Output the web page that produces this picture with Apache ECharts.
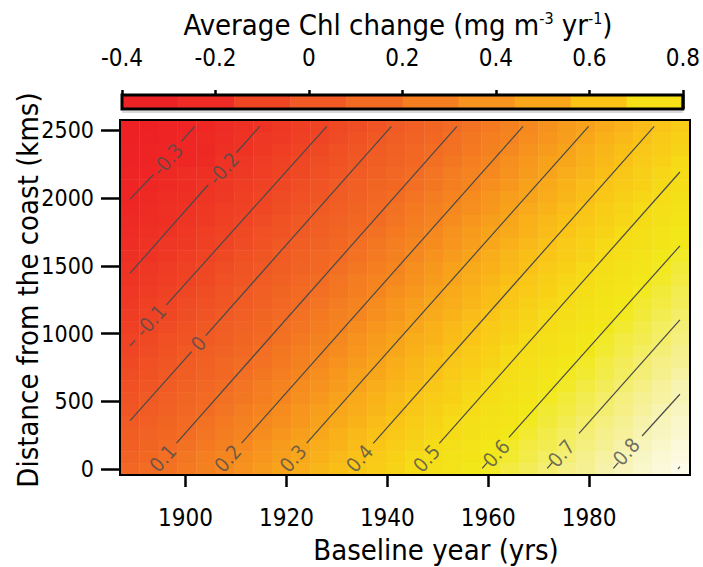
<!DOCTYPE html>
<html><head><meta charset="utf-8">
<script src="https://cdn.jsdelivr.net/npm/echarts@6/dist/echarts.min.js"></script>
<style>html,body{margin:0;padding:0;background:#fff}#c{width:703px;height:567px}</style>
</head><body><div id="c"></div>
<script>
// ---------- data ----------
const years = [1888.9,1892.7,1896.4,1900.2,1904.0,1907.7,1911.5,1915.3,1919.0,1922.8,1926.6,1930.3,1934.1,1937.9,1941.6,1945.4,1949.2,1952.9,1956.7,1960.5,1964.2,1968.0,1971.8,1975.5,1979.3,1983.1,1986.8,1990.6,1994.4,1998.1];
// rows listed from top (far from coast) to bottom (coast)
const dists = [2533,2446,2358,2271,2184,2096,2009,1922,1834,1747,1660,1572,1485,1397,1310,1223,1135,1048,961,873,786,699,611,524,437,349,262,175,87,0];
const chl = [
[-0.40,-0.38,-0.35,-0.32,-0.29,-0.26,-0.23,-0.20,-0.17,-0.14,-0.11,-0.08,-0.06,-0.03,0.00,0.03,0.06,0.09,0.12,0.15,0.18,0.21,0.24,0.27,0.29,0.32,0.35,0.38,0.41,0.44],
[-0.39,-0.36,-0.33,-0.30,-0.27,-0.24,-0.21,-0.18,-0.16,-0.13,-0.10,-0.07,-0.04,-0.01,0.02,0.05,0.08,0.11,0.14,0.17,0.19,0.22,0.25,0.28,0.31,0.34,0.37,0.40,0.43,0.46],
[-0.37,-0.34,-0.31,-0.30,-0.28,-0.23,-0.20,-0.17,-0.14,-0.11,-0.08,-0.05,-0.02,0.01,0.04,0.07,0.10,0.12,0.15,0.18,0.21,0.24,0.27,0.30,0.33,0.36,0.39,0.42,0.44,0.47],
[-0.36,-0.33,-0.30,-0.29,-0.27,-0.21,-0.18,-0.15,-0.12,-0.09,-0.06,-0.04,-0.01,0.02,0.05,0.08,0.11,0.14,0.17,0.20,0.23,0.26,0.29,0.31,0.34,0.37,0.40,0.43,0.46,0.49],
[-0.34,-0.31,-0.28,-0.25,-0.22,-0.19,-0.16,-0.14,-0.11,-0.08,-0.05,-0.02,0.01,0.04,0.07,0.10,0.13,0.16,0.19,0.21,0.24,0.27,0.30,0.33,0.36,0.39,0.42,0.45,0.48,0.51],
[-0.32,-0.29,-0.27,-0.24,-0.21,-0.18,-0.15,-0.12,-0.09,-0.06,-0.03,0.00,0.03,0.06,0.08,0.11,0.14,0.17,0.20,0.23,0.26,0.29,0.32,0.35,0.38,0.41,0.43,0.46,0.49,0.52],
[-0.31,-0.28,-0.25,-0.22,-0.19,-0.16,-0.13,-0.10,-0.07,-0.05,-0.02,0.01,0.04,0.07,0.10,0.13,0.16,0.19,0.22,0.25,0.28,0.30,0.33,0.36,0.39,0.42,0.45,0.48,0.51,0.54],
[-0.29,-0.26,-0.23,-0.20,-0.17,-0.14,-0.12,-0.09,-0.06,-0.03,0.00,0.03,0.06,0.09,0.12,0.15,0.18,0.21,0.23,0.26,0.29,0.32,0.35,0.38,0.41,0.44,0.47,0.50,0.53,0.55],
[-0.27,-0.25,-0.22,-0.19,-0.16,-0.13,-0.10,-0.07,-0.04,-0.01,0.02,0.05,0.08,0.10,0.13,0.16,0.19,0.22,0.25,0.28,0.31,0.34,0.37,0.40,0.42,0.45,0.48,0.51,0.54,0.57],
[-0.26,-0.23,-0.20,-0.17,-0.14,-0.11,-0.08,-0.05,-0.03,0.00,0.03,0.06,0.09,0.12,0.15,0.18,0.21,0.24,0.27,0.30,0.32,0.35,0.38,0.41,0.44,0.47,0.50,0.53,0.56,0.59],
[-0.24,-0.21,-0.18,-0.16,-0.13,-0.10,-0.07,-0.04,-0.01,0.02,0.05,0.08,0.11,0.14,0.17,0.20,0.22,0.25,0.28,0.31,0.34,0.37,0.40,0.43,0.46,0.49,0.52,0.54,0.57,0.60],
[-0.23,-0.20,-0.17,-0.14,-0.11,-0.08,-0.05,-0.02,0.01,0.04,0.07,0.09,0.12,0.15,0.18,0.21,0.24,0.27,0.30,0.33,0.36,0.39,0.41,0.44,0.47,0.50,0.53,0.56,0.59,0.62],
[-0.21,-0.18,-0.15,-0.12,-0.09,-0.06,-0.03,-0.01,0.02,0.05,0.08,0.11,0.14,0.17,0.20,0.23,0.26,0.29,0.32,0.34,0.37,0.40,0.43,0.46,0.49,0.52,0.55,0.58,0.61,0.64],
[-0.19,-0.16,-0.14,-0.11,-0.08,-0.05,-0.02,0.01,0.04,0.07,0.10,0.13,0.16,0.19,0.21,0.24,0.27,0.30,0.33,0.36,0.39,0.42,0.45,0.48,0.51,0.54,0.56,0.59,0.62,0.65],
[-0.18,-0.15,-0.12,-0.09,-0.06,-0.03,0.00,0.03,0.06,0.09,0.11,0.14,0.17,0.20,0.23,0.26,0.29,0.32,0.35,0.38,0.41,0.43,0.46,0.49,0.52,0.55,0.58,0.61,0.64,0.67],
[-0.16,-0.13,-0.10,-0.07,-0.05,-0.02,0.01,0.04,0.07,0.10,0.13,0.16,0.19,0.22,0.25,0.28,0.31,0.33,0.36,0.39,0.42,0.45,0.48,0.51,0.54,0.57,0.60,0.63,0.65,0.68],
[-0.15,-0.12,-0.09,-0.06,-0.03,0.00,0.03,0.06,0.09,0.12,0.15,0.18,0.20,0.23,0.26,0.29,0.32,0.35,0.38,0.41,0.44,0.47,0.50,0.52,0.55,0.58,0.61,0.64,0.67,0.70],
[-0.13,-0.10,-0.07,-0.04,-0.01,0.02,0.05,0.08,0.11,0.13,0.16,0.19,0.22,0.25,0.28,0.31,0.34,0.37,0.40,0.43,0.45,0.48,0.51,0.54,0.57,0.60,0.63,0.66,0.69,0.72],
[-0.11,-0.08,-0.05,-0.03,0.00,0.03,0.06,0.09,0.12,0.15,0.18,0.21,0.24,0.27,0.30,0.33,0.35,0.38,0.41,0.44,0.47,0.50,0.53,0.56,0.59,0.62,0.65,0.67,0.70,0.73],
[-0.10,-0.07,-0.04,-0.01,0.02,0.05,0.08,0.11,0.14,0.17,0.20,0.22,0.25,0.28,0.31,0.34,0.37,0.40,0.43,0.46,0.49,0.52,0.54,0.57,0.60,0.63,0.66,0.69,0.72,0.75],
[-0.08,-0.05,-0.02,0.01,0.04,0.07,0.10,0.12,0.15,0.18,0.21,0.24,0.27,0.30,0.33,0.36,0.39,0.42,0.44,0.47,0.50,0.53,0.56,0.59,0.62,0.65,0.68,0.71,0.74,0.76],
[-0.06,-0.04,-0.01,0.02,0.05,0.08,0.11,0.14,0.17,0.20,0.23,0.26,0.29,0.31,0.34,0.37,0.40,0.43,0.46,0.49,0.52,0.55,0.58,0.61,0.63,0.66,0.69,0.72,0.75,0.78],
[-0.05,-0.02,0.01,0.04,0.07,0.10,0.13,0.16,0.19,0.22,0.24,0.27,0.30,0.33,0.36,0.39,0.42,0.45,0.48,0.51,0.54,0.56,0.59,0.62,0.65,0.68,0.71,0.74,0.77,0.80],
[-0.03,0.00,0.03,0.06,0.09,0.12,0.14,0.17,0.20,0.23,0.26,0.29,0.32,0.35,0.38,0.41,0.44,0.46,0.49,0.52,0.55,0.58,0.61,0.64,0.67,0.70,0.73,0.76,0.78,0.81],
[-0.02,0.01,0.04,0.07,0.10,0.13,0.16,0.19,0.22,0.25,0.28,0.31,0.33,0.36,0.39,0.42,0.45,0.48,0.51,0.54,0.57,0.60,0.63,0.65,0.68,0.71,0.74,0.77,0.80,0.83],
[0.00,0.03,0.06,0.09,0.12,0.15,0.18,0.21,0.23,0.26,0.29,0.32,0.35,0.38,0.41,0.44,0.47,0.50,0.53,0.55,0.58,0.61,0.64,0.67,0.70,0.73,0.76,0.79,0.82,0.85],
[0.02,0.05,0.08,0.10,0.13,0.16,0.19,0.22,0.25,0.28,0.31,0.34,0.37,0.40,0.42,0.45,0.48,0.51,0.54,0.57,0.60,0.63,0.66,0.69,0.72,0.75,0.77,0.80,0.83,0.86],
[0.03,0.06,0.09,0.12,0.15,0.18,0.21,0.24,0.27,0.30,0.33,0.35,0.38,0.41,0.44,0.47,0.50,0.53,0.56,0.59,0.62,0.65,0.67,0.70,0.73,0.76,0.79,0.82,0.85,0.88],
[0.05,0.08,0.11,0.14,0.17,0.20,0.23,0.25,0.28,0.31,0.34,0.37,0.40,0.43,0.46,0.49,0.52,0.55,0.57,0.60,0.63,0.66,0.69,0.72,0.75,0.78,0.81,0.84,0.87,0.89],
[0.07,0.10,0.12,0.15,0.18,0.21,0.24,0.27,0.30,0.33,0.36,0.39,0.42,0.44,0.47,0.50,0.53,0.56,0.59,0.62,0.65,0.68,0.71,0.74,0.76,0.79,0.82,0.85,0.88,0.92]
];
const xTicks = [1900,1920,1940,1960,1980];
const yTicks = [0,500,1000,1500,2000,2500];
// contour segments: [level, [[year,km],[year,km]]]
const contourSegs = [
  [-0.3, [[1889.0,1993],[1893.6,2173]]], [-0.3, [[1899.2,2419],[1901.8,2530]]],
  [-0.2, [[1889.0,1446],[1904.5,2099]]], [-0.2, [[1910.1,2337],[1914.7,2530]]],
  [-0.1, [[1889.0,909],[1890.0,950]]],   [-0.1, [[1896.2,1212],[1928.0,2530]]],
  [0.0,  [[1889.0,357],[1901.2,867]]],   [0.0,  [[1904.0,985],[1940.8,2530]]],
  [0.1,  [[1898.2,192],[1953.8,2530]]],
  [0.2,  [[1911.1,192],[1966.9,2530]]],
  [0.3,  [[1924.0,192],[1979.9,2530]]],
  [0.4,  [[1937.2,190],[1992.9,2530]]],
  [0.5,  [[1950.3,190],[1998.0,2193]]],
  [0.6,  [[1958.8,5],[1959.8,47]]],      [0.6,  [[1964.1,234],[1998.0,1648]]],
  [0.7,  [[1971.7,5],[1972.7,47]]],      [0.7,  [[1978.0,264],[1998.0,1101]]],
  [0.8,  [[1984.8,5],[1985.8,47]]],      [0.8,  [[1990.5,244],[1998.0,552]]],
  [0.9,  [[1997.6,0],[1998.0,18]]]
];
// contour label positions [year, km, text]
const contourLabels = [
  [1896.4,2285,'-0.3'],[1907.5,2219,'-0.2'],[1893.1,1095,'-0.1'],[1902.6,926,'0'],
  [1895.5,81,'0.1'],[1908.4,79,'0.2'],[1921.3,79,'0.3'],[1934.5,79,'0.4'],[1947.8,79,'0.5'],
  [1961.6,116,'0.6'],[1974.5,116,'0.7'],[1987.4,128,'0.8']
];
// colour bar
const cbEdges = [-0.4,-0.28,-0.16,-0.04,0.08,0.2,0.32,0.44,0.56,0.68,0.8];
const cbColors = ['#ed2224','#ee2b24','#ef4523','#f15a24','#f36b22','#f57f20','#f7931e','#f9a61b','#fbc316','#f6e016'];
const heatStops = ['#ed2024','#ee2624','#ee3324','#ef4524','#f05a24','#f26c23','#f5861f','#f8a41b','#fac217','#f6db17','#f2e819','#f3ed68','#f7f3b0','#fcfae4','#ffffff'];

// ---------- build ----------
const FONT = '"DejaVu Sans Condensed","Liberation Sans Narrow",sans-serif';
const heatData = [];
chl.forEach((row, r) => row.forEach((v, c) => heatData.push([years[c], dists[r], v])));
const hw = (years[years.length-1] - years[0]) / (years.length - 1) / 2;
const hh = (dists[0] - dists[dists.length-1]) / (dists.length - 1) / 2;
const cbData = cbEdges.slice(0, -1).map((e, i) => [e, cbEdges[i+1]]);

const chart = echarts.init(document.getElementById('c'), null, {renderer: 'svg'});
const tickStyle = {color: '#000', width: 2.5};
chart.setOption({
  animation: false,
  backgroundColor: '#fff',
  grid: [
    {left: 120, top: 120, width: 570, height: 355},
    {left: 122, top: 95, width: 568, height: 14}
  ],
  xAxis: [
    {gridIndex: 0, type: 'value', min: 1887, max: 2000, position: 'bottom',
     axisLine: {show: false}, splitLine: {show: false},
     axisTick: {show: true, customValues: xTicks, length: 18, lineStyle: tickStyle},
     axisLabel: {customValues: xTicks, margin: 31, fontSize: 24, color: '#000', fontFamily: FONT, formatter: v => String(v)}},
    {gridIndex: 1, type: 'value', min: -0.4, max: 0.8, interval: 0.2, position: 'top',
     axisLine: {show: false}, splitLine: {show: false},
     axisTick: {show: true, length: 19, lineStyle: tickStyle},
     axisLabel: {margin: 25, fontSize: 24, color: '#000', fontFamily: FONT, formatter: v => String(Math.round(v * 10) / 10)}}
  ],
  yAxis: [
    {gridIndex: 0, type: 'value', min: -44, max: 2577,
     axisLine: {show: false}, splitLine: {show: false},
     axisTick: {show: true, customValues: yTicks, length: 19, lineStyle: tickStyle},
     axisLabel: {customValues: yTicks, margin: 26, fontSize: 23, color: '#000', fontFamily: FONT, formatter: v => String(v)}},
    {gridIndex: 1, type: 'value', min: 0, max: 1, show: false}
  ],
  visualMap: {type: 'continuous', show: false, seriesIndex: 0, dimension: 2, min: -0.4, max: 1.0, inRange: {color: heatStops}},
  series: [
    {type: 'custom', xAxisIndex: 0, yAxisIndex: 0, data: heatData, z: 1, silent: true,
     renderItem: (p, api) => {
       const a = api.coord([api.value(0) - hw, api.value(1) + hh]);
       const b = api.coord([api.value(0) + hw, api.value(1) - hh]);
       return {type: 'rect', shape: {x: a[0], y: a[1], width: b[0] - a[0] + 0.6, height: b[1] - a[1] + 0.6}, style: {fill: api.visual('color')}};
     }},
    {type: 'lines', coordinateSystem: 'cartesian2d', xAxisIndex: 0, yAxisIndex: 0, z: 3, silent: true,
     data: contourSegs.map(s => ({coords: s[1]})),
     lineStyle: {color: '#4a4a4a', width: 1.2, opacity: 1}},
    {type: 'scatter', xAxisIndex: 0, yAxisIndex: 0, z: 4, silent: true, symbolSize: 0,
     data: contourLabels,
     label: {show: true, position: 'inside', rotate: 48, formatter: p => p.value[2], color: '#4d4d4d', fontSize: 20, fontFamily: FONT}},
    {type: 'custom', xAxisIndex: 0, yAxisIndex: 0, z: 6, silent: true, data: [[1887, 2000, -44, 2577]],
     renderItem: (p, api) => {
       const a = api.coord([api.value(0), api.value(3)]);
       const b = api.coord([api.value(1), api.value(2)]);
       return {type: 'rect', shape: {x: a[0], y: a[1], width: b[0] - a[0], height: b[1] - a[1]}, style: {fill: 'none', stroke: '#000', lineWidth: 2}};
     }},
    {type: 'custom', xAxisIndex: 1, yAxisIndex: 1, z: 2, silent: true, data: cbData,
     renderItem: (p, api) => {
       const a = api.coord([api.value(0), 1]);
       const b = api.coord([api.value(1), 0]);
       return {type: 'rect', shape: {x: a[0], y: a[1], width: b[0] - a[0] + 0.5, height: b[1] - a[1]}, style: {fill: cbColors[p.dataIndex]}};
     }},
    {type: 'custom', xAxisIndex: 1, yAxisIndex: 1, z: 6, silent: true, data: [[-0.4, 0.8]],
     renderItem: (p, api) => {
       const a = api.coord([api.value(0), 1]);
       const b = api.coord([api.value(1), 0]);
       return {type: 'group', children: [
         {type: 'rect', shape: {x: a[0], y: a[1], width: b[0] - a[0], height: b[1] - a[1]}, style: {fill: 'none', stroke: '#000', lineWidth: 3}},
         {type: 'line', shape: {x1: a[0], y1: b[1] + 3, x2: b[0], y2: b[1] + 3}, style: {stroke: '#b5b5b5', lineWidth: 1.2}}
       ]};
     }}
  ],
  graphic: [
    {type: 'text', x: 398, y: 25, style: {
      text: '{t|Average Chl change (mg m}{s|-3}{t| yr}{s|-1}{t|)}',
      rich: {t: {fontSize: 29, fontFamily: FONT, fill: '#000'}, s: {fontSize: 16, fontFamily: FONT, fill: '#000', verticalAlign: 'top'}},
      align: 'center', verticalAlign: 'middle'}},
    {type: 'text', x: 436, y: 550, style: {text: 'Baseline year (yrs)', fontSize: 29, fontFamily: FONT, fill: '#000', align: 'center', verticalAlign: 'middle'}},
    {type: 'text', x: 28, y: 290, rotation: Math.PI / 2, style: {text: 'Distance from the coast (kms)', fontSize: 29, fontFamily: FONT, fill: '#000', align: 'center', verticalAlign: 'middle'}}
  ]
});
</script></body></html>
